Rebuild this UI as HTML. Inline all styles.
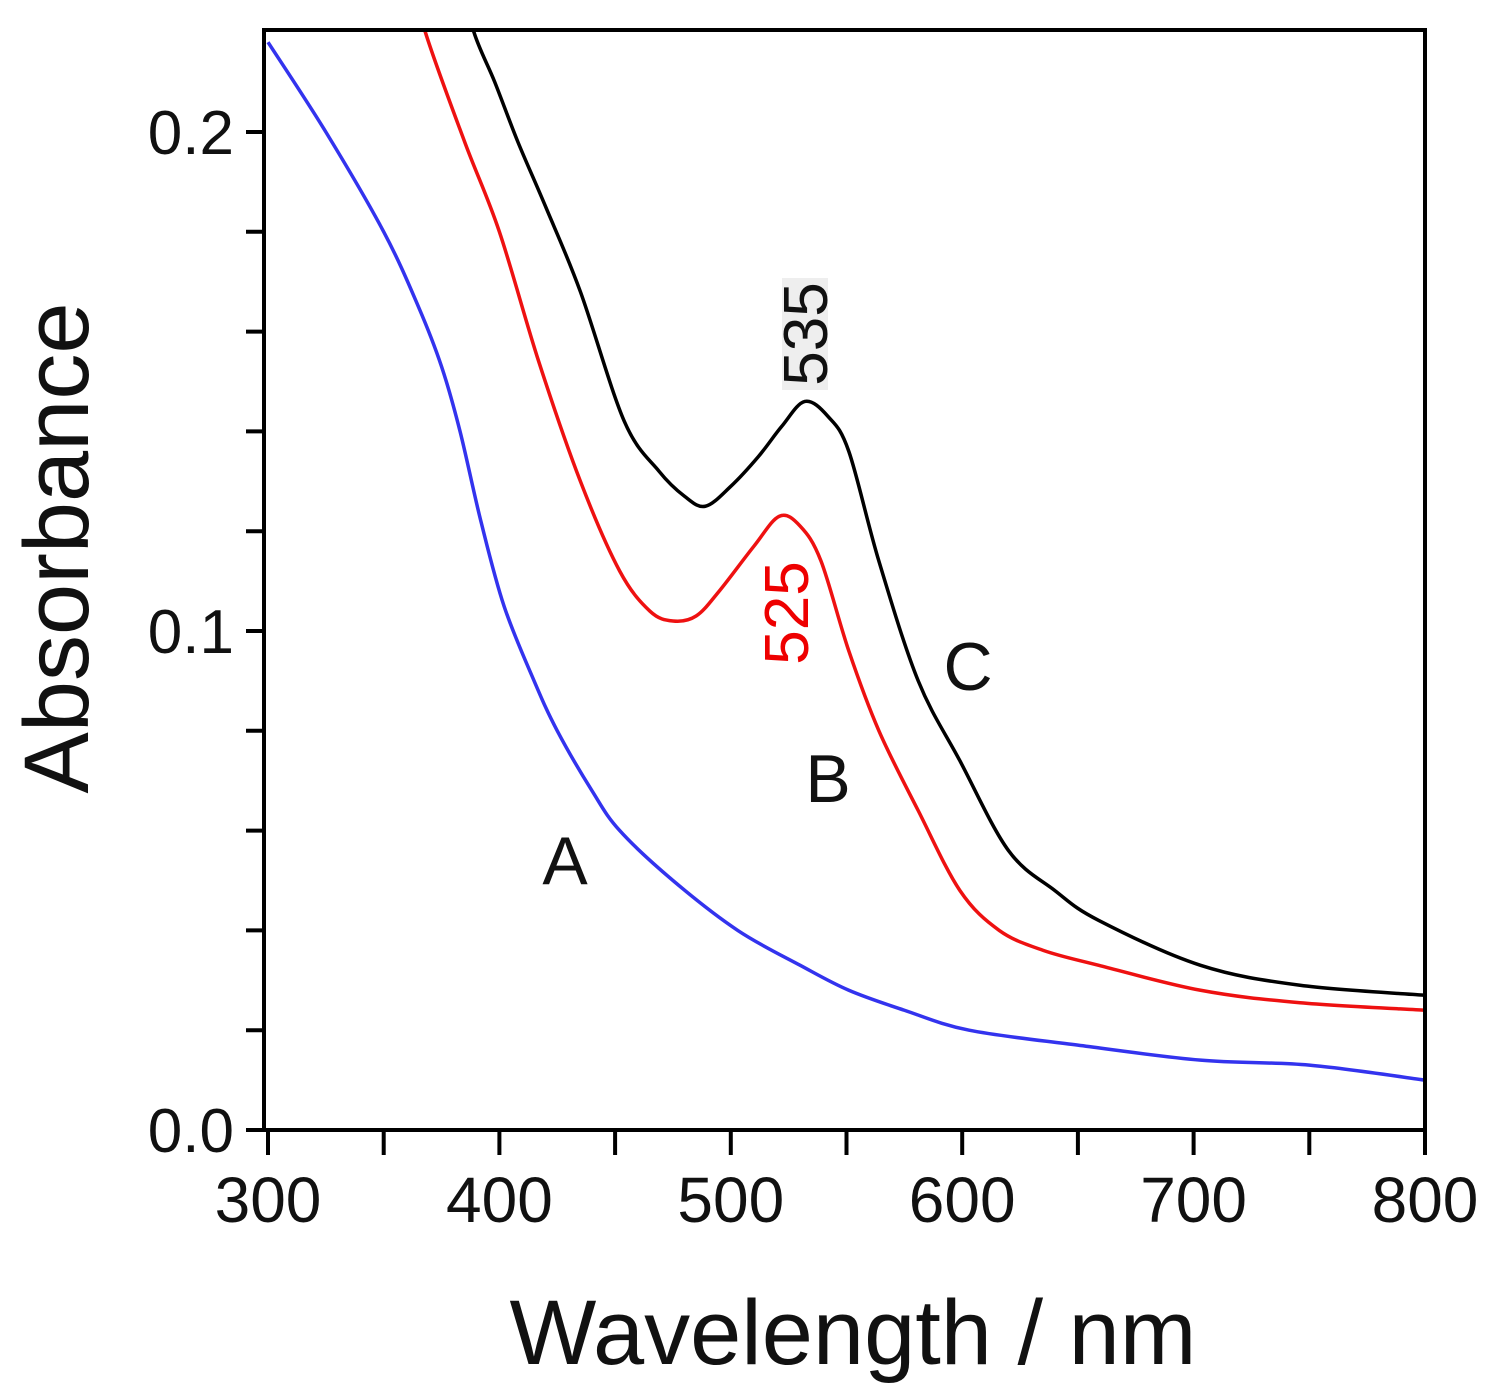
<!DOCTYPE html>
<html><head><meta charset="utf-8"><style>
html,body{margin:0;padding:0;background:#fff;}
svg{display:block;font-family:"Liberation Sans","DejaVu Sans",sans-serif;}
</style></head><body>
<svg id="chart" width="1500" height="1395" viewBox="0 0 1500 1395">
<defs><clipPath id="pc"><rect x="264" y="30" width="1161" height="1100"/></clipPath></defs>
<g id="axes"></g>
<g id="series" clip-path="url(#pc)"></g>
<rect x="264" y="30" width="1161" height="1100" fill="none" stroke="#000" stroke-width="4"/>
<rect x="782" y="278" width="46" height="112" fill="#eee"/>
<text transform="translate(827,334) rotate(-90)" text-anchor="middle" font-size="62" fill="#111">535</text>
<text transform="translate(808,613) rotate(-90)" text-anchor="middle" font-size="62" fill="#e00">525</text>
<text x="565" y="884" text-anchor="middle" font-size="68" fill="#111">A</text>
<text x="828" y="802" text-anchor="middle" font-size="68" fill="#111">B</text>
<text x="968" y="690" text-anchor="middle" font-size="68" fill="#111">C</text>
<text transform="translate(88,548) rotate(-90)" text-anchor="middle" font-size="92" fill="#111">Absorbance</text>
<text x="853" y="1364" text-anchor="middle" font-size="92" fill="#111">Wavelength / nm</text>
</svg>
<script>
const xTicks=[300,400,500,600,700,800];
const xMinor=[350,450,550,650,750];
const yTicks=[0.0,0.1,0.2];
const yTickLabels=["0.0","0.1","0.2"];
const yMinor=[0.02,0.04,0.06,0.08,0.12,0.14,0.16,0.18];
const wlA=[300,325,350,365,375,383,392,402,415,425,440,452,475,503,530,551,575,603,650,703,750,800];
const absA=[0.218,0.200,0.180,0.165,0.153,0.140,0.122,0.105,0.090,0.080,0.068,0.060,0.050,0.040,0.033,0.028,0.024,0.020,0.017,0.014,0.013,0.010];
const wlB=[360,368,385,400,417,435,452,465,475,485,495,510,521,530,539,551,564,581,599,616,635,659,703,746,800];
const absB=[0.235,0.220,0.198,0.180,0.154,0.130,0.112,0.104,0.102,0.103,0.108,0.117,0.123,0.121,0.114,0.096,0.080,0.064,0.048,0.040,0.036,0.033,0.028,0.0255,0.024];
const wlC=[383,389,398,408,420,435,454,469,480,489,500,512,522,532,542,551,564,581,599,620,640,659,703,746,800];
const absC=[0.232,0.220,0.210,0.198,0.185,0.168,0.142,0.132,0.127,0.125,0.129,0.135,0.141,0.146,0.143,0.136,0.114,0.090,0.074,0.056,0.048,0.042,0.033,0.029,0.027];
const X=v=>268+(v-300)*(1425-268)/500;
const Y=v=>1130-v*4990;
const NS="http://www.w3.org/2000/svg";
const axes=document.getElementById('axes'),series=document.getElementById('series');
function mk(tag,attrs,parent){const e=document.createElementNS(NS,tag);for(const k in attrs)e.setAttribute(k,attrs[k]);parent.appendChild(e);return e;}
xTicks.concat(xMinor).forEach(v=>{
 const t=mk('line',{x1:X(v),x2:X(v),y1:1130,y2:1155,stroke:'#000','stroke-width':4},axes);
 
 
});
xTicks.forEach(v=>{
 const t=mk('text',{x:X(v),y:1222,'text-anchor':'middle','font-size':64,fill:'#111'},axes);t.textContent=v;
 
 
});
yTicks.concat(yMinor).forEach(v=>{
 const t=mk('line',{x1:246,x2:264,y1:Y(v),y2:Y(v),stroke:'#000','stroke-width':4},axes);
 
 
});
yTicks.forEach((v,i)=>{
 const t=mk('text',{x:234,y:Y(v)+22,'text-anchor':'end','font-size':62,fill:'#111'},axes);t.textContent=yTickLabels[i];
 
 
});
function path(xs,ys){
 const p=xs.map((x,i)=>[X(x),Y(ys[i])]);
 let d=`M${p[0][0]},${p[0][1]}`;
 for(let i=0;i<p.length-1;i++){
  const p0=p[i-1]||p[i],p1=p[i],p2=p[i+1],p3=p[i+2]||p2;
  d+=` C${p1[0]+(p2[0]-p0[0])/6},${p1[1]+(p2[1]-p0[1])/6} ${p2[0]-(p3[0]-p1[0])/6},${p2[1]-(p3[1]-p1[1])/6} ${p2[0]},${p2[1]}`;
 }
 return d;
}
[[wlA,absA,'#3333ee','curve-a'],[wlB,absB,'#ee1111','curve-b'],[wlC,absC,'#000','curve-c']].forEach(s=>{
 const e=mk('path',{d:path(s[0],s[1]),fill:'none',stroke:s[2],'stroke-width':3.5},series);
 
 
});
</script>
</body></html>
